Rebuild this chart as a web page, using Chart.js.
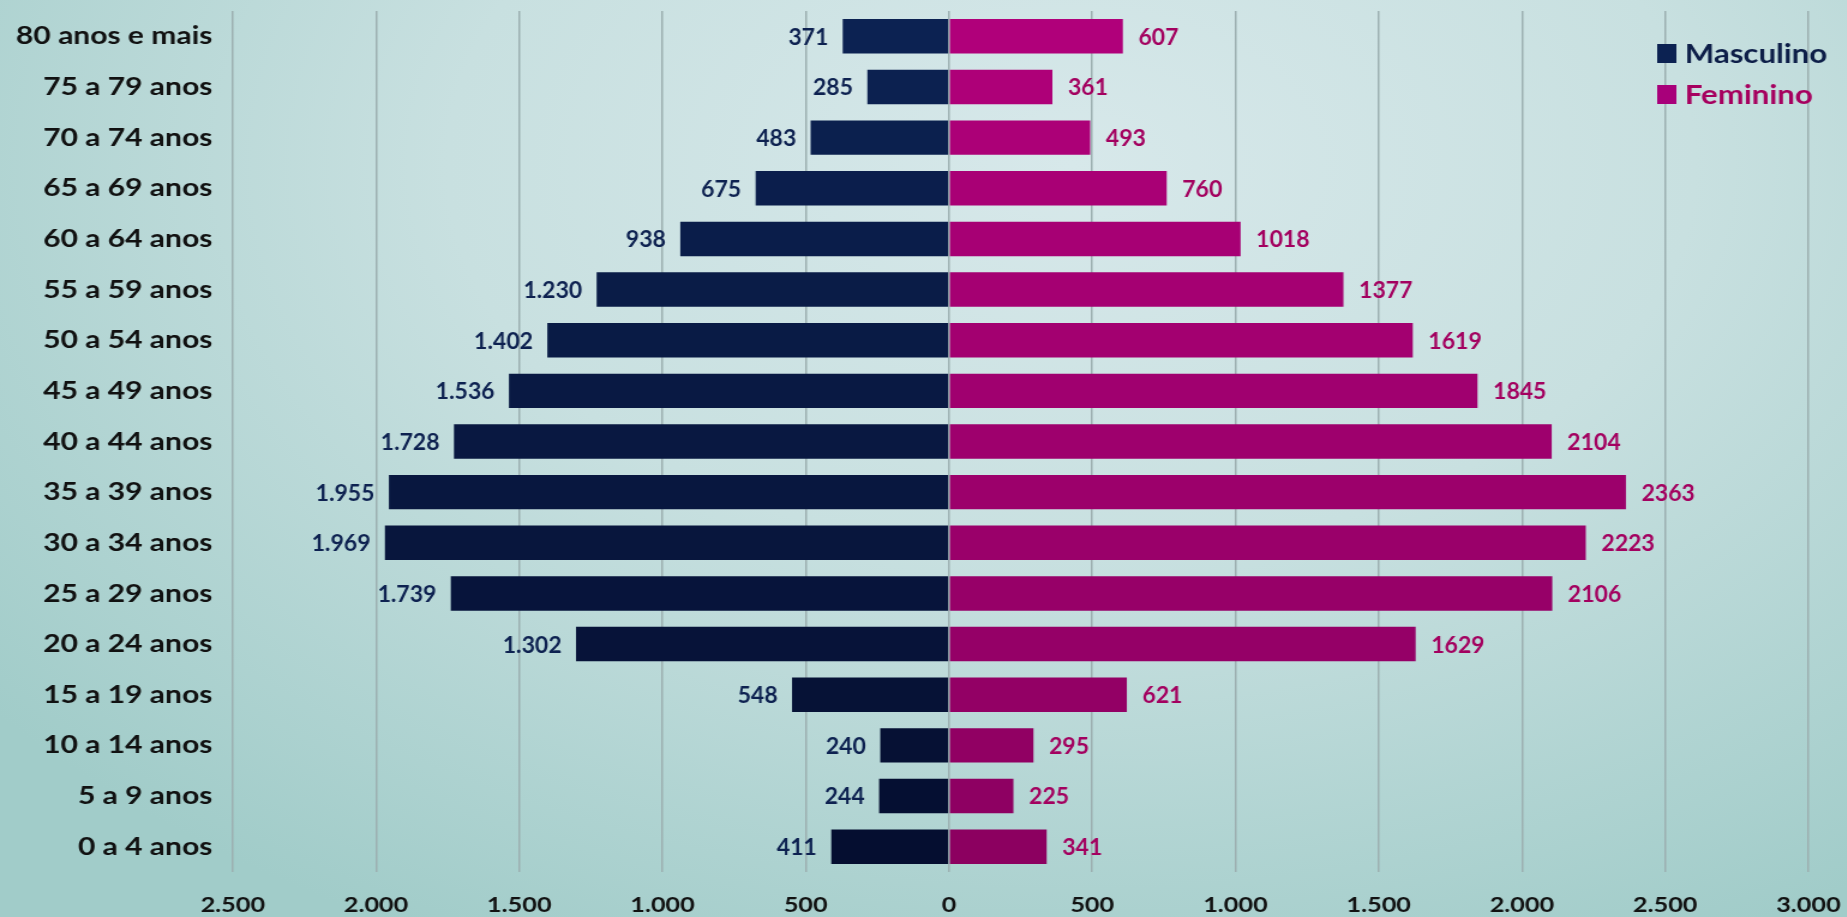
<!DOCTYPE html>
<html>
<head>
<meta charset="utf-8">
<script src="https://cdn.jsdelivr.net/npm/chart.js@4"></script>
<style>
  html, body { margin: 0; padding: 0; }
  body {
    width: 1847px; height: 917px; overflow: hidden;
    background: radial-gradient(ellipse 75% 95% at 58% 18%, #d7e8ea 0%, #c8e0e0 45%, #a1ccc9 100%);
  }
  /* the source picture is stretched sideways, so the chart is too */
  #wrap { width: 1539px; height: 917px; transform: scaleX(1.2); transform-origin: 0 0; }
</style>
</head>
<body>
<div id="wrap"><canvas id="myChart"></canvas></div>
<script>
"use strict";

// Age groups, top to bottom
const ageGroups = [
  '80 anos e mais', '75 a 79 anos', '70 a 74 anos', '65 a 69 anos', '60 a 64 anos',
  '55 a 59 anos', '50 a 54 anos', '45 a 49 anos', '40 a 44 anos', '35 a 39 anos',
  '30 a 34 anos', '25 a 29 anos', '20 a 24 anos', '15 a 19 anos', '10 a 14 anos',
  '5 a 9 anos', '0 a 4 anos'
];
const masculino = [371, 285, 483, 675, 938, 1230, 1402, 1536, 1728, 1955, 1969, 1739, 1302, 548, 240, 244, 411];
const feminino = [607, 361, 493, 760, 1018, 1377, 1619, 1845, 2104, 2363, 2223, 2106, 1629, 621, 295, 225, 341];
const xTicks = [-2500, -2000, -1500, -1000, -500, 0, 500, 1000, 1500, 2000, 2500, 3000];

const FONT = "Lato, 'Open Sans', sans-serif";
const STRETCH = 1.2;

// blend two hex colours by t
function mix(a, b, t) {
  const pa = [1, 3, 5].map(i => parseInt(a.substr(i, 2), 16));
  const pb = [1, 3, 5].map(i => parseInt(b.substr(i, 2), 16));
  return 'rgb(' + pa.map((v, i) => Math.round(v + (pb[i] - v) * t)).join(',') + ')';
}

const fmtDot = v => Math.abs(v).toLocaleString('pt-BR');

// value labels at bar ends (these are not stretched in the source)
const barLabels = {
  id: 'barLabels',
  afterDatasetsDraw(chart) {
    const ctx = chart.ctx;
    chart.data.datasets.forEach((ds, di) => {
      const meta = chart.getDatasetMeta(di);
      meta.data.forEach((bar, i) => {
        ctx.save();
        ctx.font = "bold 23px " + FONT;
        ctx.textBaseline = 'middle';
        if (di === 0) {
          ctx.translate(bar.x - 12, bar.y + 1);
          ctx.scale(1 / STRETCH, 1);
          ctx.fillStyle = '#0d2150';
          ctx.textAlign = 'right';
          ctx.fillText(fmtDot(masculino[i]), 0, 0);
        } else {
          ctx.translate(bar.x + 13, bar.y + 1);
          ctx.scale(1 / STRETCH, 1);
          ctx.fillStyle = '#a3005f';
          ctx.textAlign = 'left';
          ctx.fillText(String(feminino[i]), 0, 0);
        }
        ctx.restore();
      });
    });
  }
};

// legend inside the top right corner
const cornerLegend = {
  id: 'cornerLegend',
  afterDraw(chart) {
    const ctx = chart.ctx;
    const right = chart.chartArea.right;
    ctx.save();
    ctx.font = "bold 26px " + FONT;
    ctx.textBaseline = 'middle';
    ctx.textAlign = 'left';
    chart.data.datasets.forEach((ds, di) => {
      const y = 54 + di * 41;
      const x = right - 126;
      ctx.fillStyle = ds.legendColor;
      ctx.fillRect(x, y - 10, 16, 19);
      ctx.fillStyle = ds.legendText;
      ctx.fillText(ds.label, x + 23, y + 1);
    });
    ctx.restore();
  }
};

const ctx = document.querySelector('#myChart').getContext('2d');
const n = ageGroups.length;

const myChart = new Chart(ctx, {
  type: 'bar',
  data: {
    labels: ageGroups,
    datasets: [
      {
        label: 'Masculino',
        data: masculino.map(v => -v),
        backgroundColor: c => mix('#0c2252', '#050e30', c.dataIndex / (n - 1)),
        legendColor: '#0c2252',
        legendText: '#0d1e48',
        barPercentage: 0.68,
        categoryPercentage: 1
      },
      {
        label: 'Feminino',
        data: feminino,
        backgroundColor: c => mix('#b0007a', '#8c0060', c.dataIndex / (n - 1)),
        legendColor: '#a8007a',
        legendText: '#a6005f',
        barPercentage: 0.68,
        categoryPercentage: 1
      }
    ]
  },
  options: {
    indexAxis: 'y',
    responsive: true,
    maintainAspectRatio: false,
    animation: false,
    layout: { padding: { top: 11, right: 32, left: 0, bottom: 0 } },
    plugins: {
      legend: { display: false },
      tooltip: { enabled: false }
    },
    scales: {
      x: {
        stacked: true,
        min: -2500,
        max: 3000,
        afterBuildTicks: scale => { scale.ticks = xTicks.map(v => ({ value: v })); },
        afterFit: scale => {
          scale.height = 45;
          scale.paddingLeft = 0;
          scale.paddingRight = 0;
        },
        grid: { color: '#9cafb0', lineWidth: 1.5, drawTicks: false },
        border: { display: false },
        ticks: {
          padding: 21,
          color: '#111',
          font: { family: FONT, size: 21, weight: 'bold' },
          callback: v => fmtDot(v)
        }
      },
      y: {
        stacked: true,
        afterFit: scale => {
          scale.width = 194;
          scale.paddingTop = 0;
          scale.paddingBottom = 0;
        },
        grid: { display: false, drawTicks: false },
        border: { display: false },
        ticks: {
          padding: 17,
          color: '#111',
          font: { family: FONT, size: 25, weight: 'bold' }
        }
      }
    }
  },
  plugins: [barLabels, cornerLegend]
});
</script>
</body>
</html>
